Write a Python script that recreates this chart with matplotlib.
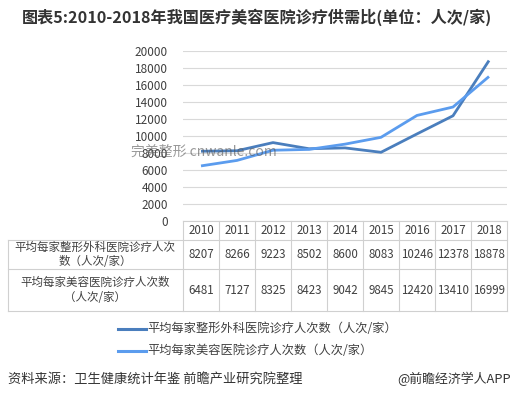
import matplotlib

matplotlib.use("Agg")
import matplotlib.pyplot as plt
from matplotlib.lines import Line2D

plt.rcParams["font.family"] = ["Noto Sans CJK SC", "DejaVu Sans"]

YEARS = ["2010", "2011", "2012", "2013", "2014", "2015", "2016", "2017", "2018"]
SURGERY = [8207, 8266, 9223, 8502, 8600, 8083, 10246, 12378, 18878]
BEAUTY = [6481, 7127, 8325, 8423, 9042, 9845, 12420, 13410, 16999]
NAMES = ["平均每家整形外科医院诊疗人次数（人次/家）", "平均每家美容医院诊疗人次数（人次/家）"]
ROW_LABELS = [["平均每家整形外科医院诊疗人次", "数（人次/家）"],
              ["平均每家美容医院诊疗人次数", "（人次/家）"]]
YTICKS = list(range(0, 20001, 2000))

COLORS = ["#4a7ebd", "#5b9cee"]
GRID = "#d9d9d9"
TXT = "#404040"

W, H = 513, 399
fig = plt.figure(figsize=(W / 100, H / 100), dpi=100)


def fx(px):
    return px / W


def fy(py):
    return 1 - py / H


# plot area
left, right, top, bottom = 183, 507, 51, 221
ax = fig.add_axes([fx(left), fy(bottom), fx(right - left), fy(top) - fy(bottom)])
x = list(range(len(YEARS)))
for vals, c in zip([SURGERY, BEAUTY], COLORS):
    ax.plot(x, vals, color=c, lw=2.0, solid_capstyle="butt", zorder=3)
ax.set_xlim(-0.5, len(YEARS) - 0.5)
ax.set_ylim(0, 20000)
ax.set_yticks(YTICKS)
ax.set_yticklabels([str(v) for v in YTICKS], fontsize=8.5, color=TXT)
ax.tick_params(axis="y", length=0, pad=11)
ax.set_xticks([])
ax.grid(axis="y", color=GRID, lw=0.8)
for s in ax.spines.values():
    s.set_visible(False)
ax.set_facecolor("none")

# watermark text
fig.text(fx(131), fy(152), "完美整形 cnwanle.com", fontsize=10, color="#555555",
         alpha=0.6, va="center", ha="left")

# data table
rows = [221, 240, 269, 311]
col_w = (right - left) / len(YEARS)
lc = "#d0d0d0"
for yy in rows:
    x0 = left if yy == rows[0] else 8
    fig.add_artist(Line2D([fx(x0), fx(right)], [fy(yy), fy(yy)], color=lc, lw=0.8))
for i in range(len(YEARS) + 1):
    xx = left + i * col_w
    fig.add_artist(Line2D([fx(xx), fx(xx)], [fy(rows[0]), fy(rows[-1])], color=lc, lw=0.8))
fig.add_artist(Line2D([fx(8), fx(8)], [fy(rows[1]), fy(rows[-1])], color=lc, lw=0.8))

tfs = 8.3
for i, yr in enumerate(YEARS):
    cx = left + (i + 0.5) * col_w
    fig.text(fx(cx), fy((rows[0] + rows[1]) / 2), yr, ha="center", va="center",
             fontsize=tfs, color=TXT)
    for r, vals in enumerate([SURGERY, BEAUTY]):
        cy = (rows[r + 1] + rows[r + 2]) / 2
        fig.text(fx(cx), fy(cy), str(vals[i]), ha="center", va="center",
                 fontsize=tfs, color=TXT)

for r, lab in enumerate(ROW_LABELS):
    cy = (rows[r + 1] + rows[r + 2]) / 2
    fig.text(fx(95), fy(cy), "\n".join(lab), ha="center", va="center",
             fontsize=8.3, color=TXT, linespacing=1.15)

# legend
for j, (name, c) in enumerate(zip(NAMES, COLORS)):
    yy = 329 + j * 22
    fig.add_artist(Line2D([fx(118), fx(146)], [fy(yy), fy(yy)], color=c, lw=2.2))
    fig.text(fx(147), fy(yy), name, ha="left", va="center", fontsize=8.8, color=TXT)

# title and footer
fig.text(0.5, fy(17), "图表5:2010-2018年我国医疗美容医院诊疗供需比(单位：人次/家)",
         ha="center", va="center", fontsize=11.6, fontweight="bold", color="#333333")
fig.text(fx(8), fy(379), "资料来源：卫生健康统计年鉴 前瞻产业研究院整理",
         ha="left", va="center", fontsize=9.5, color="#333333")
fig.text(fx(511), fy(379), "@前瞻经济学人APP", ha="right", va="center",
         fontsize=9.3, color="#333333")

fig.savefig("out.png", dpi=100)
